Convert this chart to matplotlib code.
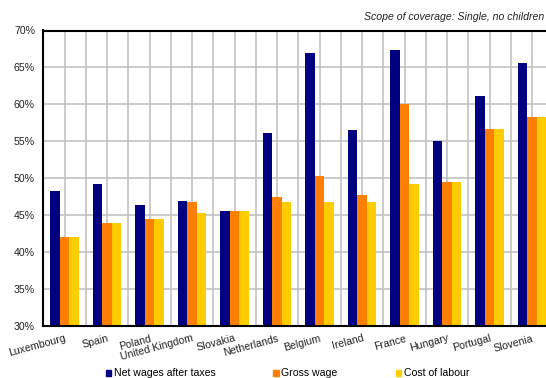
import numpy as np
import matplotlib.pyplot as plt
from matplotlib.patches import Patch

plt.rcParams['font.family'] = ['Liberation Sans', 'DejaVu Sans']

# countries on the x axis
countries = ['Luxembourg', 'Spain', 'Poland', 'United Kingdom', 'Slovakia', 'Netherlands',
             'Belgium', 'Ireland', 'France', 'Hungary', 'Portugal', 'Slovenia']

# tax rates in percent
net_wages = [48.2, 49.2, 46.4, 46.9, 45.6, 56.1, 66.9, 56.5, 67.4, 55.0, 61.1, 65.6]
gross_wage = [42.0, 43.9, 44.5, 46.7, 45.6, 47.4, 50.3, 47.7, 60.1, 49.5, 56.6, 58.3]
cost_labour = [42.0, 43.9, 44.5, 45.3, 45.6, 46.7, 46.7, 46.7, 49.2, 49.5, 56.6, 58.3]

series_names = ['Net wages after taxes', 'Gross wage', 'Cost of labour']
series_colors = ['#000080', '#FF8000', '#FFCC00']

yticks = [30, 35, 40, 45, 50, 55, 60, 65, 70]

fs = 7.6

W, H = 546, 378
fig = plt.figure(figsize=(W / 100, H / 100), dpi=100)
# the plot area runs a little past the right edge of the image
ax = fig.add_axes([43.3 / W, 1 - 325.7 / H, 510 / W, 295.2 / H])

x = np.arange(len(countries))
w = 0.222
for i, (vals, c) in enumerate(zip([net_wages, gross_wage, cost_labour], series_colors)):
    ax.bar(x + (i - 1) * w, vals, width=w, color=c, linewidth=0, zorder=3)

ax.set_xlim(-0.5, len(countries) - 0.5)
ax.set_ylim(30, 70)

# grid: horizontal every 5 %, vertical at every half category
ax.set_yticks(yticks)
ax.set_yticklabels([f'{v}%' for v in yticks])
ax.set_xticks(x)
ax.set_xticks(np.arange(len(countries)) + 0.5, minor=True)
ax.grid(True, which='both', color='#BDBDBD', linewidth=1.1, zorder=0)
ax.tick_params(which='both', length=0)
ax.tick_params(axis='y', pad=6.0, labelsize=fs, labelcolor='#222222')
ax.set_xticklabels(countries, rotation=15, ha='right', va='top',
                   rotation_mode='anchor', fontsize=fs, color='#222222')
ax.tick_params(axis='x', pad=5.5)

for side in ['left', 'top', 'bottom']:
    ax.spines[side].set_linewidth(1.5)
    ax.spines[side].set_color('black')
    ax.spines[side].set_zorder(4)
ax.spines['right'].set_visible(False)

fig.text(544 / W, 1 - 17 / H, 'Scope of coverage: Single, no children',
         fontsize=fs, style='italic', ha='right', va='center', color='#222222')

handles = [Patch(color=c, label=n) for n, c in zip(series_names, series_colors)]
fig.legend(handles=handles, ncol=3, loc='center left',
           bbox_to_anchor=(105.7 / W, 1 - 373.3 / H), frameon=False,
           fontsize=fs, handlelength=0.5, handleheight=0.5, handletextpad=0.25,
           columnspacing=5.5, borderpad=0, borderaxespad=0)

plt.savefig('out.png', dpi=100)
